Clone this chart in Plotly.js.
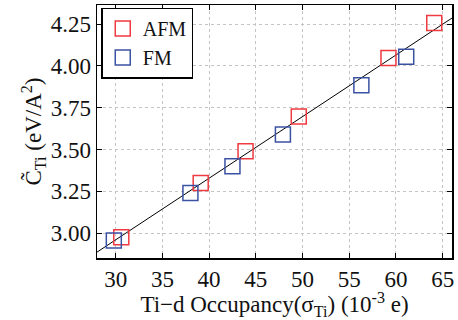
<!DOCTYPE html>
<html>
<head>
<meta charset="utf-8">
<script src="https://cdn.plot.ly/plotly-3.0.1.min.js"></script>
<style>html,body{margin:0;padding:0;background:#fff;}#chart{width:458px;height:320px;}</style>
</head>
<body>
<div id="chart"></div>
<script>
const afmX = [30.6, 39.1, 43.9, 49.6, 59.2, 64.1];
const afmY = [2.976, 3.30, 3.49, 3.697, 4.047, 4.256];
const fmX = [29.8, 38.0, 42.5, 47.9, 56.3, 61.1];
const fmY = [2.957, 3.24, 3.40, 3.59, 3.885, 4.055];
const fitX = [28, 66];
const fitY = [2.887, 4.286];
const xTicks = [30, 35, 40, 45, 50, 55, 60, 65];
const yTicks = [3.00, 3.25, 3.50, 3.75, 4.00, 4.25];

const serif = '"Liberation Serif", "Times New Roman", serif';
const traces = [
  {x: fitX, y: fitY, mode: 'lines', line: {color: '#000', width: 1}, showlegend: false, hoverinfo: 'skip'},
  {x: afmX, y: afmY, mode: 'markers', name: 'AFM',
   marker: {symbol: 'square-open', size: 15, color: '#ee3a40', line: {width: 1.5}}},
  {x: fmX, y: fmY, mode: 'markers', name: 'FM',
   marker: {symbol: 'square-open', size: 15, color: '#3b52a3', line: {width: 1.5}}}
];
const axisCommon = {
  showline: true, linecolor: '#000', linewidth: 1.5, mirror: 'ticks',
  ticks: 'inside', ticklen: 5, tickcolor: '#000', tickwidth: 1,
  showgrid: true, gridcolor: '#c4c4c4', griddash: 'dot', gridwidth: 1,
  zeroline: false, tickfont: {family: serif, size: 23, color: '#111'}
};
const layout = {
  width: 458, height: 320,
  margin: {l: 97, r: 6, t: 5, b: 62},
  paper_bgcolor: '#fff', plot_bgcolor: '#fff',
  font: {family: serif, color: '#111'},
  xaxis: Object.assign({}, axisCommon, {
    range: [28, 66], tickvals: xTicks, ticktext: xTicks.map(String),
    title: {text: 'Ti\u2212d Occupancy(\u03c3<sub>Ti</sub>) (10<sup>-3</sup> e)', font: {family: serif, size: 23}, standoff: 0}
  }),
  yaxis: Object.assign({}, axisCommon, {
    range: [2.852, 4.364], tickvals: yTicks, ticktext: yTicks.map(v => v.toFixed(2)),
    title: {text: 'C\u0303<sub>Ti</sub> (eV/A<sup>2</sup>)', font: {family: serif, size: 23}, standoff: 2}
  }),
  legend: {x: 0.012, y: 0.99, xanchor: 'left', yanchor: 'top',
    bordercolor: '#000', borderwidth: 1.5, bgcolor: '#fff',
    font: {family: serif, size: 20, color: '#111'}, itemwidth: 30, tracegroupgap: 0},
  showlegend: true
};
Plotly.newPlot('chart', traces, layout, {staticPlot: true, displayModeBar: false});
</script>
</body>
</html>
